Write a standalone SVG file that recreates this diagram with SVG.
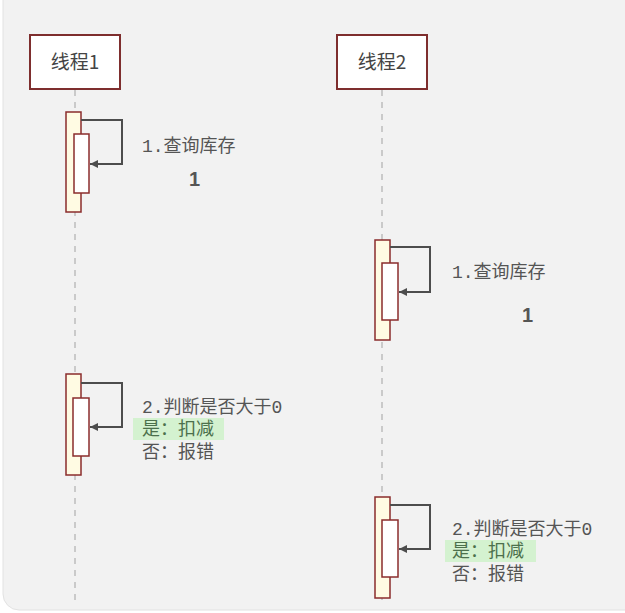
<svg xmlns="http://www.w3.org/2000/svg" width="625" height="613" viewBox="0 0 625 613">
<style>
.bg{fill:#f2f2f2;stroke:#e2e2e2;stroke-width:1}
.actor rect{fill:#ffffff;stroke:#7e2e2e;stroke-width:2}
.actor text{font-family:"Noto Sans CJK SC","Noto Sans",sans-serif;font-size:19px;fill:#444;text-anchor:middle}
.life{stroke:#bdbdbd;stroke-width:1.5;stroke-dasharray:6,6;fill:none}
.outer{fill:#fffbe3;stroke:#8b2c2c;stroke-width:1.5}
.inner{fill:#ffffff;stroke:#8b2c2c;stroke-width:1.5}
.msg{fill:none;stroke:#4d4d4d;stroke-width:2}
.lbl{font-family:"Liberation Mono","Noto Sans CJK SC",monospace;font-size:18px;fill:#555}
.yes{fill:#4c704c}
.hl{fill:#d4f2d0}
.num{font-family:"Liberation Sans","Noto Sans",sans-serif;font-size:20px;font-weight:bold;fill:#555}
</style>
<defs>
<marker id="ah" viewBox="0 0 10 10" refX="10" refY="5" markerWidth="10" markerHeight="8" markerUnits="userSpaceOnUse" orient="auto">
<path d="M0,0 L10,5 L0,10 z" fill="#4d4d4d"/>
</marker>
</defs>
<rect width="625" height="613" fill="#ffffff"/>
<rect class="bg" x="3" y="-20" width="640" height="630" rx="16"/>
<g id="lifelines">
<line class="life" x1="75" y1="90" x2="75" y2="602"/>
<line class="life" x1="382" y1="90" x2="382" y2="602"/>
</g>
<g id="thread1">
<g class="actor"><rect x="30" y="35" width="90" height="54"/><text x="75" y="69">线程1</text></g>
</g>
<g id="thread2">
<g class="actor"><rect x="337" y="35" width="90" height="54"/><text x="382" y="69">线程2</text></g>
</g>
<g id="act1a"><rect class="outer" x="66" y="112" width="15" height="100"/><rect class="inner" x="74" y="134" width="15" height="59"/></g>
<g id="act2a"><rect class="outer" x="375" y="240" width="15" height="100"/><rect class="inner" x="382" y="263" width="16" height="57"/></g>
<g id="act1b"><rect class="outer" x="66" y="374" width="15" height="101"/><rect class="inner" x="73" y="398" width="16" height="58"/></g>
<g id="act2b"><rect class="outer" x="375" y="497" width="15" height="101"/><rect class="inner" x="382" y="520" width="16" height="57"/></g>
<g id="connectors">
<path class="msg" d="M81,120 H122 V164 H90" marker-end="url(#ah)"/>
<path class="msg" d="M390,247 H430 V292 H399" marker-end="url(#ah)"/>
<path class="msg" d="M81,383 H122 V427 H90" marker-end="url(#ah)"/>
<path class="msg" d="M390,505 H430 V549 H399" marker-end="url(#ah)"/>
</g>
<g id="labels">
<text class="lbl" x="142" y="152">1.查询库存</text>
<text class="num" x="189" y="186">1</text>
<text class="lbl" x="452" y="278">1.查询库存</text>
<text class="num" x="522" y="322">1</text>
<text class="lbl" x="142" y="413">2.判断是否大于0</text>
<rect class="hl" x="133" y="418" width="91" height="22"/>
<text class="lbl yes" x="142" y="435">是：扣减</text>
<text class="lbl" x="142" y="458">否：报错</text>
<text class="lbl" x="452" y="535">2.判断是否大于0</text>
<rect class="hl" x="445" y="540" width="91" height="22"/>
<text class="lbl yes" x="452" y="557">是：扣减</text>
<text class="lbl" x="452" y="580">否：报错</text>
</g>
</svg>
